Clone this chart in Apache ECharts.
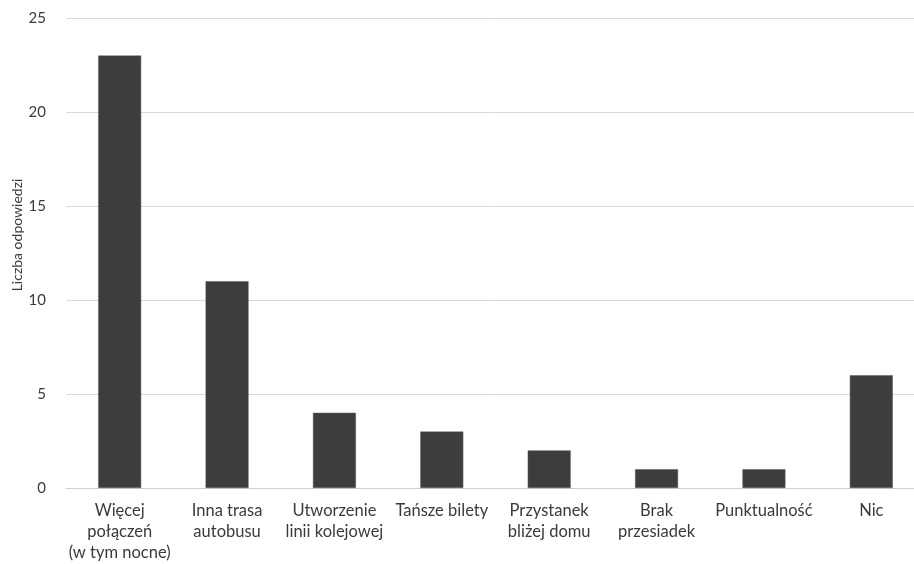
<!DOCTYPE html>
<html>
<head>
<meta charset="utf-8">
<script src="https://cdn.jsdelivr.net/npm/echarts@6/dist/echarts.min.js"></script>
<style>
  html, body { margin: 0; padding: 0; background: #fff; }
  #chart { width: 914px; height: 564px; }
</style>
</head>
<body>
<div id="chart"></div>
<script>
// Survey answers: what would encourage more public transport use
const categories = [
  'Więcej\npołączeń\n(w tym nocne)',
  'Inna trasa\nautobusu',
  'Utworzenie\nlinii kolejowej',
  'Tańsze bilety',
  'Przystanek\nbliżej domu',
  'Brak\nprzesiadek',
  'Punktualność',
  'Nic'
];
const answerCounts = [23, 11, 4, 3, 2, 1, 1, 6];
const yAxisTitle = 'Liczba odpowiedzi';

const fontFamily = 'Lato, "Open Sans", sans-serif';
const chart = echarts.init(document.getElementById('chart'), null, { renderer: 'canvas' });

chart.setOption({
  backgroundColor: '#ffffff',
  animation: false,
  grid: { left: 66, top: 18, right: -11, bottom: 76, containLabel: false, outerBoundsMode: 'none' },
  xAxis: {
    type: 'category',
    data: categories,
    axisLine: { show: true, lineStyle: { color: '#d0d0d0', width: 1 } },
    axisTick: { show: false },
    axisLabel: {
      interval: 0,
      margin: 12,
      color: '#3a3a3a',
      fontFamily: fontFamily,
      fontSize: 16.5,
      lineHeight: 21
    }
  },
  yAxis: {
    type: 'value',
    min: 0,
    max: 25,
    interval: 5,
    axisLine: { show: false },
    axisTick: { show: false },
    splitLine: { lineStyle: { color: '#d9d9d9', width: 1 } },
    axisLabel: {
      margin: 20,
      color: '#3a3a3a',
      fontFamily: fontFamily,
      fontSize: 15
    }
  },
  graphic: [{
    type: 'text',
    rotation: Math.PI / 2,
    x: 17,
    y: 235,
    style: {
      text: yAxisTitle,
      fill: '#3a3a3a',
      font: '14px ' + fontFamily,
      textAlign: 'center',
      textVerticalAlign: 'middle'
    }
  }],
  series: [{
    type: 'bar',
    data: answerCounts,
    barCategoryGap: '60%',
    itemStyle: { color: '#3d3d3d', borderColor: '#595959', borderWidth: 0.5 }
  }]
});
</script>
</body>
</html>
